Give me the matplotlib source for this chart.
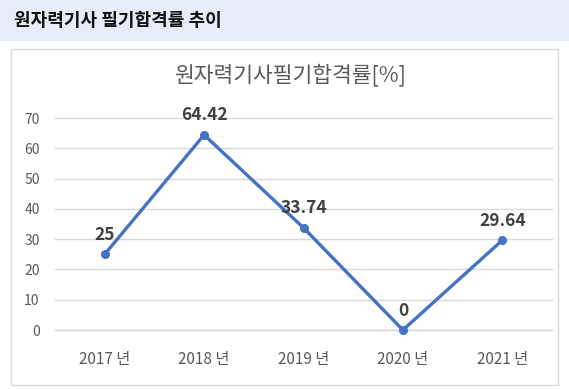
import matplotlib.pyplot as plt
from matplotlib.patches import Rectangle

plt.rcParams['font.family'] = ['Noto Sans CJK KR', 'DejaVu Sans']

years = ['2017 년', '2018 년', '2019 년', '2020 년', '2021 년']
rates = [25, 64.42, 33.74, 0, 29.64]
rate_labels = ['25', '64.42', '33.74', '0', '29.64']

W, H = 569, 389
fig = plt.figure(figsize=(W / 100, H / 100), dpi=100)

# header band
fig.patches.append(Rectangle((0, 1 - 41 / H), 1, 41 / H, transform=fig.transFigure,
                             facecolor='#E7EDF8', edgecolor='none', zorder=-2))
fig.text(14 / W, 1 - 20 / H, '원자력기사 필기합격률 추이', fontsize=13, fontweight='bold',
         color='#111111', ha='left', va='center')

# chart frame
fig.patches.append(Rectangle((11 / W, 1 - 385 / H), 547 / W, 336 / H, transform=fig.transFigure,
                             facecolor='white', edgecolor='#D9D9D9', lw=1, zorder=-2))

fig.text(290 / W, 1 - 75 / H, '원자력기사필기합격률[%]', fontsize=15.5,
         color='#595959', ha='center', va='center')

ax = fig.add_axes([55 / W, 1 - 330 / H, 497 / W, 212 / H])
ax.set_zorder(1)
ax.set_facecolor('none')
x = range(len(years))
ax.plot(x, rates, color='#4472C4', lw=2.4, marker='o', markersize=5.5, zorder=3, clip_on=False)
for i, v in enumerate(rates):
    ax.annotate(rate_labels[i], (i, v), xytext=(0, 14), textcoords='offset points',
                ha='center', va='center', fontsize=12.5, fontweight='bold', color='#404040')

ax.set_xlim(-0.5, 4.5)
ax.set_ylim(0, 70)
ax.set_yticks(range(0, 71, 10))
ax.set_xticks(list(x))
ax.set_xticklabels(years)
ax.grid(axis='y', color='#D9D9D9', lw=1, clip_on=False)
ax.axhline(0, color='#D9D9D9', lw=1, zorder=1, clip_on=False)
ax.set_axisbelow(True)
for s in ax.spines.values():
    s.set_visible(False)
ax.tick_params(axis='y', length=0, pad=11, labelsize=10, labelcolor='#595959')
ax.tick_params(axis='x', length=0, pad=15, labelsize=11, labelcolor='#595959')

fig.savefig('out.png', dpi=100)
